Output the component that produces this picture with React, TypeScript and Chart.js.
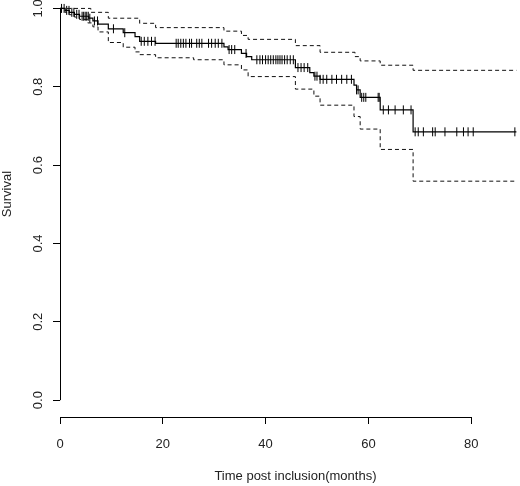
import React, { useEffect, useRef } from "react";
import { Chart, registerables } from "chart.js";

Chart.register(...registerables);

// Kaplan-Meier estimate: step times (months) and survival after each step
const KM_TIME = [0, 1.0, 1.8, 2.8, 3.8, 5.6, 6.4, 7.4, 9.4, 12.3, 14.6, 15.5, 18.6, 31.9, 32.7, 35.3, 36.3, 37.3, 45.8, 48.6, 49.4, 50.6, 57.2, 57.7, 58.4, 62.3, 68.7];
const KM_SURV = [1.0, 0.995, 0.99, 0.985, 0.98, 0.975, 0.968, 0.96, 0.948, 0.938, 0.928, 0.916, 0.911, 0.902, 0.895, 0.885, 0.877, 0.869, 0.849, 0.836, 0.827, 0.819, 0.804, 0.792, 0.773, 0.741, 0.685];

// Upper confidence band
const UPPER_TIME = [0, 6.0, 9.4, 15.5, 18.6, 31.9, 35.3, 36.6, 45.8, 50.6, 57.4, 58.4, 62.3, 68.7];
const UPPER_SURV = [1.0, 0.99, 0.975, 0.962, 0.951, 0.942, 0.931, 0.921, 0.905, 0.888, 0.877, 0.866, 0.855, 0.842];

// Lower confidence band
const LOWER_TIME = [0, 1.0, 1.8, 2.8, 3.8, 5.4, 6.4, 7.4, 9.4, 12.3, 14.6, 15.5, 18.6, 26.0, 31.9, 35.3, 36.6, 45.8, 49.4, 50.6, 57.2, 58.4, 62.3, 68.7];
const LOWER_SURV = [1.0, 0.99, 0.984, 0.978, 0.972, 0.963, 0.953, 0.94, 0.913, 0.901, 0.889, 0.882, 0.874, 0.869, 0.856, 0.843, 0.826, 0.794, 0.776, 0.753, 0.724, 0.692, 0.64, 0.559];

// Censoring times (months)
const CENSOR_TIME = [
  0.3, 0.8, 1.3, 1.75, 2.3, 2.7, 3.25, 3.7, 4.3, 4.6, 4.9, 5.2, 5.5, 5.8, 6.7, 7.3,
  10.4, 12.6, 15.8, 16.4, 17.1, 17.8, 18.5, 22.6, 23.0, 23.5, 24.0, 24.5, 25.2, 25.6,
  26.6, 27.1, 27.6, 28.9, 29.5, 30.2, 30.8, 31.5, 32.9, 33.4, 34.0, 36.2, 38.3, 38.9,
  39.4, 40.0, 40.5, 41.0, 41.5, 42.0, 42.4, 42.8, 43.2, 43.7, 44.2, 44.8, 45.4, 46.3,
  46.9, 47.5, 48.2, 49.6, 50.0, 50.6, 51.2, 51.9, 52.9, 53.8, 54.8, 55.8, 56.7, 57.7,
  58.0, 58.7, 59.1, 59.5, 61.9, 62.1, 62.9, 63.9, 65.2, 66.8, 68.3, 69.1, 69.7, 70.7,
  72.5, 73.0, 74.9, 77.2, 78.5, 79.4, 80.4, 88.5,
];
const END_TIME = 88.8;

const X_TICKS = [0, 20, 40, 60, 80];
const Y_TICKS = [0, 0.2, 0.4, 0.6, 0.8, 1.0];
const X_TITLE = "   Time post inclusion(months)";
const Y_TITLE = "        Survival";

const FONT = { family: "'Liberation Sans', Arial, sans-serif", size: 13 };
const TEXT_COLOR = "#222";

function stepPoints(times: number[], surv: number[], end: number) {
  const pts = times.map((t, i) => ({ x: t, y: surv[i] }));
  pts.push({ x: end, y: surv[surv.length - 1] });
  return pts;
}

function survAt(times: number[], surv: number[], t: number) {
  let s = surv[0];
  for (let i = 0; i < times.length; i++) {
    if (times[i] <= t) s = surv[i];
  }
  return s;
}

const axisLines = {
  id: "axisLines",
  afterDraw(chart: any) {
    const { ctx, chartArea, scales } = chart;
    const x = scales.x;
    const y = scales.y;
    ctx.save();
    ctx.strokeStyle = "#000";
    ctx.lineWidth = 1;
    ctx.beginPath();
    const by = Math.round(chartArea.bottom) + 0.5;
    ctx.moveTo(x.getPixelForValue(X_TICKS[0]), by);
    ctx.lineTo(x.getPixelForValue(X_TICKS[X_TICKS.length - 1]), by);
    const lx = Math.round(chartArea.left) + 0.5;
    ctx.moveTo(lx, y.getPixelForValue(Y_TICKS[0]));
    ctx.lineTo(lx, y.getPixelForValue(Y_TICKS[Y_TICKS.length - 1]));
    ctx.stroke();
    ctx.restore();
  },
};

export default function App() {
  const ref = useRef<HTMLCanvasElement | null>(null);

  useEffect(() => {
    document.body.style.margin = "0";
    const canvas = ref.current;
    if (!canvas) return;

    const gridOpts = {
      drawOnChartArea: false,
      drawTicks: true,
      tickLength: 7,
      color: "#000",
      lineWidth: 1,
    };

    const chart = new Chart(canvas, {
      type: "line",
      data: {
        datasets: [
          {
            data: stepPoints(KM_TIME, KM_SURV, END_TIME),
            stepped: "before",
            borderColor: "#000",
            borderWidth: 1.2,
            pointRadius: 0,
            fill: false,
          },
          {
            data: stepPoints(UPPER_TIME, UPPER_SURV, END_TIME),
            stepped: "before",
            borderColor: "#111",
            borderWidth: 1,
            borderDash: [4, 3],
            pointRadius: 0,
            fill: false,
          },
          {
            data: stepPoints(LOWER_TIME, LOWER_SURV, END_TIME),
            stepped: "before",
            borderColor: "#111",
            borderWidth: 1,
            borderDash: [4, 3],
            pointRadius: 0,
            fill: false,
          },
          {
            type: "scatter",
            data: CENSOR_TIME.map((t) => ({ x: t, y: survAt(KM_TIME, KM_SURV, t) })),
            showLine: false,
            pointStyle: "line",
            rotation: 90,
            pointRadius: 4.5,
            borderColor: "#000",
            borderWidth: 1,
          } as any,
        ],
      },
      options: {
        responsive: false,
        animation: false,
        layout: { padding: 0, autoPadding: false },
        plugins: {
          legend: { display: false },
          tooltip: { enabled: false },
        },
        scales: {
          x: {
            type: "linear",
            min: 0,
            max: 89.5,
            afterBuildTicks: (s: any) => {
              s.ticks = X_TICKS.map((v) => ({ value: v }));
            },
            afterFit: (s: any) => {
              s.height = 69;
              s.paddingLeft = 0;
              s.paddingRight = 0;
            },
            grid: gridOpts,
            border: { display: false },
            ticks: {
              padding: 13,
              font: FONT,
              color: TEXT_COLOR,
              maxRotation: 0,
              autoSkip: false,
            },
            title: {
              display: true,
              text: X_TITLE,
              font: FONT,
              color: TEXT_COLOR,
              padding: { top: 0, bottom: 2 },
            },
          },
          y: {
            type: "linear",
            min: -0.043,
            max: 1.0215,
            afterBuildTicks: (s: any) => {
              s.ticks = Y_TICKS.map((v) => ({ value: v }));
            },
            afterFit: (s: any) => {
              s.width = 60;
              s.paddingTop = 0;
              s.paddingBottom = 0;
            },
            grid: gridOpts,
            border: { display: false },
            ticks: {
              minRotation: 90,
              maxRotation: 90,
              crossAlign: "center",
              padding: 6,
              font: FONT,
              color: TEXT_COLOR,
              autoSkip: false,
              callback: (v: any) => Number(v).toFixed(1),
            },
            title: {
              display: true,
              text: Y_TITLE,
              font: FONT,
              color: TEXT_COLOR,
              padding: { top: 0, bottom: 0 },
            },
          },
        },
      },
      plugins: [axisLines],
    } as any);

    return () => {
      chart.destroy();
    };
  }, []);

  return <canvas ref={ref} width={520} height={486} style={{ display: "block" }} />;
}
